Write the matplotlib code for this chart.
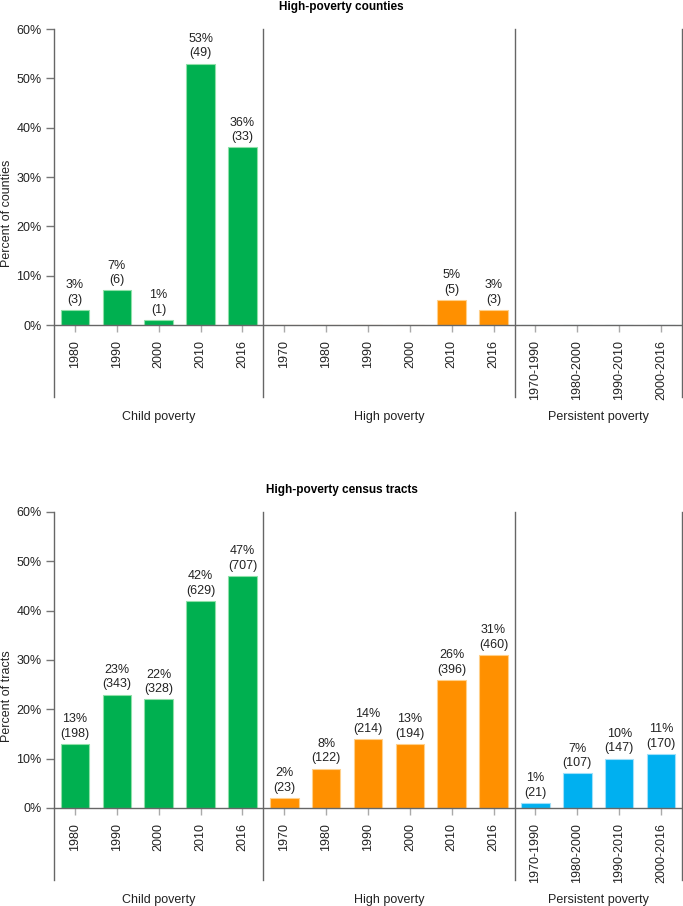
import numpy as np
import matplotlib
matplotlib.use("Agg")
import matplotlib.pyplot as plt

# =========================================================
# DATA
# =========================================================

child_labels = ["1980", "1990", "2000", "2010", "2016"]
high_labels = ["1970", "1980", "1990", "2000", "2010", "2016"]
persist_labels = ["1970-1990", "1980-2000", "1990-2010", "2000-2016"]

# High-poverty counties
county_child_pct = [3, 7, 1, 53, 36]
county_child_n = [3, 6, 1, 49, 33]
county_high_pct = [0, 0, 0, 0, 5, 3]
county_high_n = [0, 0, 0, 0, 5, 3]
county_persist_pct = [0, 0, 0, 0]
county_persist_n = [0, 0, 0, 0]

# High-poverty census tracts
tract_child_pct = [13, 23, 22, 42, 47]
tract_child_n = [198, 343, 328, 629, 707]
tract_high_pct = [2, 8, 14, 13, 26, 31]
tract_high_n = [23, 122, 214, 194, 396, 460]
tract_persist_pct = [1, 7, 10, 11]
tract_persist_n = [21, 107, 147, 170]

group_names = ["Child poverty", "High poverty", "Persistent poverty"]
colors = ["#00b050", "#ff9000", "#00b0f0"]
edge_colors = ["#8fe0a8", "#ffd08a", "#9fe0fa"]

plt.rcParams["font.family"] = ["Liberation Sans", "DejaVu Sans"]

# =========================================================
# FIGURE
# =========================================================

W, H = 683, 906
fig = plt.figure(figsize=(W / 100, H / 100), dpi=100)
FS = 9


def draw_panel(top_px, bottom_px, title, title_px, ylabel, pcts, counts):
    ax = fig.add_axes([54 / W, 1 - bottom_px / H, 628 / W, (bottom_px - top_px) / H])

    labels = child_labels + high_labels + persist_labels
    sizes = [len(child_labels), len(high_labels), len(persist_labels)]

    start = 0
    for g in range(3):
        x = np.arange(start, start + sizes[g])
        ax.bar(x, pcts[g], width=0.68, color=colors[g],
               edgecolor=edge_colors[g], linewidth=0.8, zorder=2)
        for xi, p, n in zip(x, pcts[g], counts[g]):
            if p > 0:
                ax.annotate(f"{p}%\n({n})", xy=(xi, p), xytext=(0, 3),
                            textcoords="offset points", ha="center",
                            va="bottom", fontsize=FS, color="#222222",
                            linespacing=1.3)
        start += sizes[g]

    ax.set_xlim(-0.5, len(labels) - 0.5)
    ax.set_ylim(0, 60)
    ax.set_yticks(range(0, 61, 10))
    ax.set_yticklabels([f"{v}%" for v in range(0, 61, 10)])
    ax.set_xticks(range(len(labels)))
    ax.set_xticklabels(labels, rotation=90)

    ax.tick_params(axis="x", length=5, width=1, color="#aaaaaa",
                   labelsize=FS, labelcolor="#222222", pad=6)
    ax.tick_params(axis="y", length=6, width=1, color="#777777",
                   labelsize=FS, labelcolor="#222222", pad=3)

    for s in ["top", "right", "left"]:
        ax.spines[s].set_visible(False)
    ax.spines["bottom"].set_color("#666666")
    ax.spines["bottom"].set_linewidth(1)

    ext = -(72 / (bottom_px - top_px))
    for xs in [-0.5, 4.5, 10.5, 14.5]:
        ax.axvline(xs, ymin=ext, ymax=1, color="#666666", linewidth=1,
                   clip_on=False, zorder=3)

    for gx, name in zip([2, 7.5, 12.5], group_names):
        ax.text(gx, -(92 / (bottom_px - top_px)) * 60, name, ha="center",
                va="center", fontsize=FS, color="#222222")

    fig.text(0.5, 1 - title_px / H, title, ha="center", va="center",
             fontsize=8.5, fontweight="bold")
    fig.text(7 / W, 1 - (top_px + (bottom_px - top_px + 72) / 2) / H, ylabel,
             rotation=90, ha="center", va="center", fontsize=FS,
             color="#222222")
    return ax


draw_panel(29, 325, "High-poverty counties", 7, "Percent of counties",
           [county_child_pct, county_high_pct, county_persist_pct],
           [county_child_n, county_high_n, county_persist_n])

draw_panel(512, 808, "High-poverty census tracts", 490, "Percent of tracts",
           [tract_child_pct, tract_high_pct, tract_persist_pct],
           [tract_child_n, tract_high_n, tract_persist_n])

fig.savefig("out.png", dpi=100)
